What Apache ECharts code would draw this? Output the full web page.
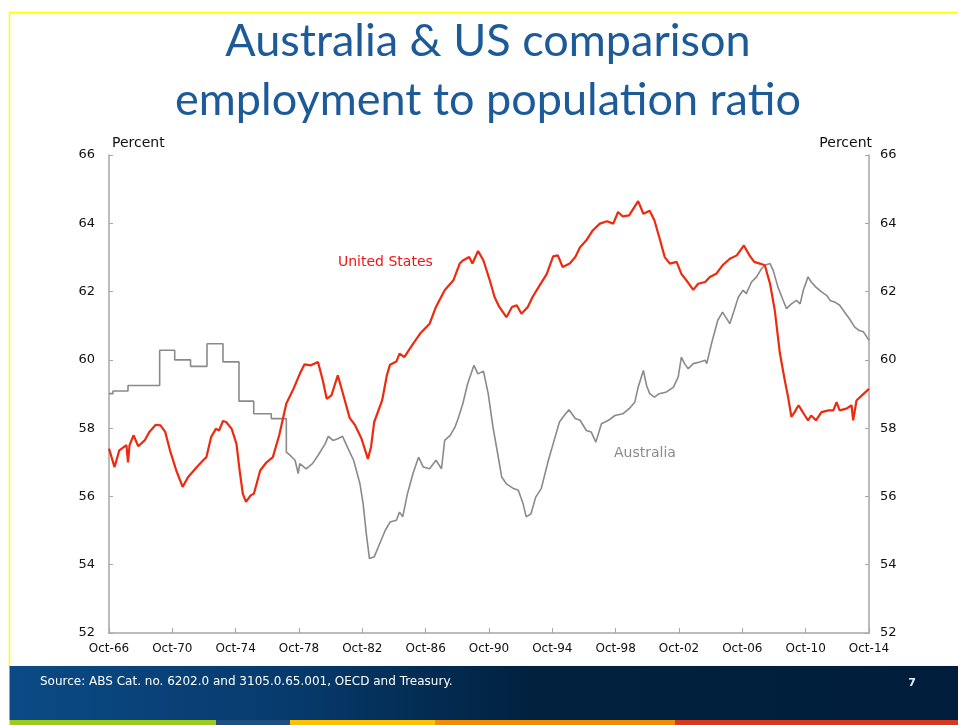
<!DOCTYPE html>
<html>
<head>
<meta charset="utf-8">
<script src="https://cdn.jsdelivr.net/npm/echarts@6/dist/echarts.min.js"></script>
<style>
  html, body { margin: 0; padding: 0; background: #fff; }
  #chart { width: 958px; height: 725px; }
</style>
</head>
<body>
<div id="chart"></div>
<script>
// axis setup: x runs in years from Oct-66
const startYear = 1966.75;
const xTickLabels = ["Oct-66", "Oct-70", "Oct-74", "Oct-78", "Oct-82", "Oct-86", "Oct-90",
  "Oct-94", "Oct-98", "Oct-02", "Oct-06", "Oct-10", "Oct-14"];
const yTicks = [52, 54, 56, 58, 60, 62, 64, 66];

// United States employment to population ratio
const usYears = [1966.75, 1967.1, 1967.4, 1967.85, 1967.95, 1968.05, 1968.3, 1968.6, 1969.0, 1969.3,
  1969.7, 1970.0, 1970.3, 1970.6, 1971.0, 1971.4, 1971.75, 1972.3, 1972.7, 1972.9,
  1973.2, 1973.5, 1973.7, 1973.95, 1974.15, 1974.5, 1974.8, 1975.0, 1975.2, 1975.4,
  1975.7, 1975.9, 1976.3, 1976.7, 1977.1, 1977.5, 1977.95, 1978.4, 1978.8, 1979.1,
  1979.5, 1979.95, 1980.25, 1980.5, 1980.8, 1981.2, 1981.5, 1981.95, 1982.3, 1982.7,
  1983.1, 1983.3, 1983.5, 1984.0, 1984.3, 1984.5, 1984.9, 1985.1, 1985.4, 1985.95,
  1986.4, 1987.0, 1987.4, 1987.95, 1988.5, 1988.9, 1989.1, 1989.5, 1989.7, 1990.06,
  1990.4, 1990.8, 1991.1, 1991.4, 1991.85, 1992.2, 1992.5, 1992.8, 1993.2, 1993.5,
  1993.95, 1994.4, 1994.8, 1995.1, 1995.4, 1995.85, 1996.2, 1996.5, 1996.9, 1997.3,
  1997.75, 1998.2, 1998.6, 1998.9, 1999.2, 1999.6, 2000.17, 2000.5, 2000.9, 2001.2,
  2001.5, 2001.85, 2002.17, 2002.6, 2002.9, 2003.3, 2003.65, 2003.96, 2004.4, 2004.7,
  2005.1, 2005.5, 2005.96, 2006.4, 2006.85, 2007.2, 2007.5, 2007.85, 2008.17, 2008.5,
  2008.8, 2009.12, 2009.43, 2009.64, 2009.85, 2010.05, 2010.3, 2010.5, 2010.7, 2010.9,
  2011.1, 2011.4, 2011.75, 2012.2, 2012.5, 2012.7, 2012.9, 2013.33, 2013.65, 2013.75,
  2013.96, 2014.3, 2014.75];
const usValues = [57.40, 56.86, 57.35, 57.50, 57.00, 57.50, 57.79, 57.47, 57.64, 57.89,
  58.10, 58.08, 57.89, 57.35, 56.76, 56.28, 56.57, 56.86, 57.06, 57.15,
  57.74, 57.98, 57.93, 58.21, 58.18, 57.98, 57.54, 56.76, 56.08, 55.84,
  56.03, 56.08, 56.76, 57.00, 57.15, 57.79, 58.72, 59.15, 59.59, 59.87,
  59.84, 59.94, 59.40, 58.86, 58.96, 59.55, 59.05, 58.30, 58.08, 57.69,
  57.10, 57.45, 58.18, 58.81, 59.55, 59.86, 59.95, 60.18, 60.08, 60.47,
  60.77, 61.06, 61.55, 62.04, 62.33, 62.82, 62.91, 63.01, 62.82, 63.19,
  62.91, 62.33, 61.84, 61.55, 61.25, 61.55, 61.60, 61.35, 61.55, 61.84,
  62.18, 62.52, 63.03, 63.06, 62.72, 62.82, 63.01, 63.30, 63.50, 63.79,
  63.99, 64.06, 63.99, 64.33, 64.20, 64.23, 64.65, 64.28, 64.37, 64.08,
  63.60, 63.01, 62.82, 62.87, 62.52, 62.28, 62.05, 62.23, 62.28, 62.43,
  62.52, 62.77, 62.96, 63.06, 63.35, 63.06, 62.87, 62.82, 62.77, 62.23,
  61.45, 60.20, 59.40, 58.91, 58.33, 58.47, 58.67, 58.52, 58.37, 58.23,
  58.37, 58.23, 58.47, 58.52, 58.52, 58.76, 58.52, 58.57, 58.67, 58.23,
  58.81, 58.96, 59.15];

// Australia: annual steps until 1978, monthly after that
const ausYears = [1966.75, 1967.0, 1967.0, 1967.95, 1967.95, 1969.95, 1969.95, 1970.9, 1970.9, 1971.9,
  1971.9, 1972.94, 1972.94, 1973.95, 1973.95, 1974.96, 1974.96, 1975.89, 1975.89, 1977.0,
  1977.0, 1977.95, 1977.95, 1978.2, 1978.5, 1978.7, 1978.8, 1979.2, 1979.6, 1979.95,
  1980.4, 1980.6, 1980.9, 1981.2, 1981.5, 1981.85, 1982.2, 1982.6, 1982.8, 1983.0,
  1983.2, 1983.5, 1983.85, 1984.2, 1984.5, 1984.9, 1985.1, 1985.3, 1985.6, 1985.95,
  1986.3, 1986.6, 1987.0, 1987.4, 1987.75, 1987.95, 1988.3, 1988.6, 1988.8, 1989.1,
  1989.4, 1989.8, 1990.05, 1990.4, 1990.7, 1991.0, 1991.3, 1991.55, 1991.85, 1992.3,
  1992.6, 1992.9, 1993.1, 1993.4, 1993.7, 1994.05, 1994.5, 1994.8, 1995.2, 1995.5,
  1995.8, 1996.2, 1996.5, 1996.9, 1997.2, 1997.5, 1997.85, 1998.3, 1998.7, 1999.2,
  1999.6, 1999.96, 2000.17, 2000.5, 2000.7, 2000.9, 2001.2, 2001.5, 2001.96, 2002.4,
  2002.7, 2002.9, 2003.1, 2003.33, 2003.65, 2004.07, 2004.4, 2004.5, 2004.8, 2005.2,
  2005.5, 2005.7, 2005.96, 2006.2, 2006.5, 2006.8, 2007.0, 2007.33, 2007.65, 2007.96,
  2008.17, 2008.5, 2008.7, 2009.0, 2009.33, 2009.54, 2009.85, 2010.17, 2010.4, 2010.6,
  2010.9, 2011.1, 2011.4, 2011.75, 2012.07, 2012.3, 2012.6, 2012.9, 2013.2, 2013.5,
  2013.85, 2014.1, 2014.4, 2014.75];
const ausValues = [59.01, 59.01, 59.09, 59.09, 59.25, 59.25, 60.28, 60.28, 60.00, 60.00,
  59.81, 59.81, 60.47, 60.47, 59.94, 59.94, 58.79, 58.79, 58.42, 58.42,
  58.28, 58.28, 57.30, 57.20, 57.06, 56.67, 56.96, 56.81, 56.96, 57.20,
  57.54, 57.76, 57.64, 57.69, 57.76, 57.40, 57.06, 56.37, 55.79, 54.91,
  54.18, 54.23, 54.62, 55.01, 55.25, 55.30, 55.54, 55.40, 56.08, 56.67,
  57.15, 56.86, 56.81, 57.06, 56.81, 57.64, 57.79, 58.03, 58.28, 58.72,
  59.30, 59.84, 59.59, 59.67, 59.01, 58.03, 57.25, 56.57, 56.37, 56.23,
  56.18, 55.79, 55.40, 55.49, 55.98, 56.23, 57.06, 57.54, 58.18, 58.37,
  58.54, 58.28, 58.23, 57.93, 57.89, 57.59, 58.13, 58.23, 58.37, 58.42,
  58.57, 58.76, 59.20, 59.69, 59.25, 59.01, 58.91, 59.01, 59.06, 59.20,
  59.50, 60.08, 59.89, 59.74, 59.89, 59.94, 59.99, 59.89, 60.47, 61.16,
  61.40, 61.25, 61.06, 61.40, 61.84, 62.04, 61.94, 62.28, 62.43, 62.67,
  62.77, 62.82, 62.62, 62.13, 61.74, 61.50, 61.64, 61.74, 61.64, 62.04,
  62.43, 62.28, 62.13, 61.99, 61.89, 61.74, 61.69, 61.60, 61.40, 61.21,
  60.96, 60.87, 60.82, 60.57];

const toPairs = (years, values) => years.map((y, i) => [y - startYear, values[i]]);

const chart = echarts.init(document.getElementById("chart"));
const axisGrey = "#a6a6a6";
const labelFont = { color: "#111", fontFamily: "DejaVu Sans", fontSize: 12 };

chart.setOption({
  animation: false,
  grid: { left: 109, right: 89, top: 155, bottom: 92 },
  xAxis: {
    type: "value",
    min: 0,
    max: 48,
    interval: 4,
    axisLine: { show: true, lineStyle: { color: axisGrey, width: 1.5 } },
    axisTick: { show: true, inside: true, length: 5, lineStyle: { color: axisGrey } },
    splitLine: { show: false },
    axisLabel: {
      ...labelFont,
      margin: 10,
      formatter: (v) => xTickLabels[Math.round(v / 4)] || "",
    },
  },
  yAxis: [
    {
      type: "value",
      min: yTicks[0],
      max: yTicks[yTicks.length - 1],
      interval: 2,
      position: "left",
      axisLine: { show: true, lineStyle: { color: axisGrey, width: 1.5 } },
      axisTick: { show: true, inside: true, length: 4, lineStyle: { color: axisGrey } },
      splitLine: { show: false },
      axisLabel: { ...labelFont, fontSize: 13, margin: 14 },
    },
    {
      type: "value",
      min: yTicks[0],
      max: yTicks[yTicks.length - 1],
      interval: 2,
      position: "right",
      axisLine: { show: true, lineStyle: { color: axisGrey, width: 1.5 } },
      axisTick: { show: true, inside: true, length: 4, lineStyle: { color: axisGrey } },
      splitLine: { show: false },
      axisLabel: { ...labelFont, fontSize: 13, margin: 11 },
    },
  ],
  series: [
    {
      name: "Australia",
      type: "line",
      data: toPairs(ausYears, ausValues),
      showSymbol: false,
      lineStyle: { color: "#8a8a8a", width: 1.6 },
      z: 2,
    },
    {
      name: "United States",
      type: "line",
      data: toPairs(usYears, usValues),
      showSymbol: false,
      lineStyle: { color: "#ee2a0e", width: 2.2 },
      z: 3,
    },
  ],
  graphic: [
    // slide frame
    { type: "rect", shape: { x: 9.5, y: 12.5, width: 960, height: 654 },
      style: { fill: "none", stroke: "#ffff00", lineWidth: 1.5 }, z: 0 },
    { type: "text", x: 488, y: 41, style: { text: "Australia & US comparison", fill: "#1c5a98",
      font: "45px Lato", textAlign: "center", textVerticalAlign: "middle" } },
    { type: "text", x: 488, y: 100, style: { text: "employment to population ratio", fill: "#1c5a98",
      font: "45px Lato", textAlign: "center", textVerticalAlign: "middle" } },
    { type: "text", x: 112, y: 143, style: { text: "Percent", fill: "#111",
      font: "14px 'DejaVu Sans'", textVerticalAlign: "middle" } },
    { type: "text", x: 872, y: 143, style: { text: "Percent", fill: "#111",
      font: "14px 'DejaVu Sans'", textAlign: "right", textVerticalAlign: "middle" } },
    { type: "text", x: 338, y: 262, style: { text: "United States", fill: "#f01414",
      font: "14px 'DejaVu Sans'", textVerticalAlign: "middle" } },
    { type: "text", x: 614, y: 453, style: { text: "Australia", fill: "#8a8a8a",
      font: "14px 'DejaVu Sans'", textVerticalAlign: "middle" } },
    // footer band
    { type: "rect", shape: { x: 9.5, y: 666, width: 950, height: 54 },
      style: { fill: new echarts.graphic.LinearGradient(0, 0, 1, 0, [
        { offset: 0, color: "#0b4a85" },
        { offset: 0.3, color: "#063a6c" },
        { offset: 0.55, color: "#01213f" },
        { offset: 1, color: "#001e3b" },
      ]) } },
    { type: "text", x: 40, y: 682, style: { text: "Source: ABS Cat. no. 6202.0 and 3105.0.65.001, OECD and Treasury.",
      fill: "#ffffff", font: "12px 'DejaVu Sans'", textVerticalAlign: "middle" } },
    { type: "text", x: 912, y: 683, style: { text: "7", fill: "#e8f0ff",
      font: "bold 11px 'DejaVu Sans'", textAlign: "center", textVerticalAlign: "middle" } },
    // colour stripe
    { type: "rect", shape: { x: 9.5, y: 720, width: 207, height: 5 }, style: { fill: "#9ccb19" } },
    { type: "rect", shape: { x: 216, y: 720, width: 74, height: 5 }, style: { fill: "#1f4f7e" } },
    { type: "rect", shape: { x: 290, y: 720, width: 145, height: 5 }, style: { fill: "#ffc000" } },
    { type: "rect", shape: { x: 435, y: 720, width: 240, height: 5 }, style: { fill: "#f28c00" } },
    { type: "rect", shape: { x: 675, y: 720, width: 283, height: 5 }, style: { fill: "#d9381e" } },
  ],
});
</script>
</body>
</html>
